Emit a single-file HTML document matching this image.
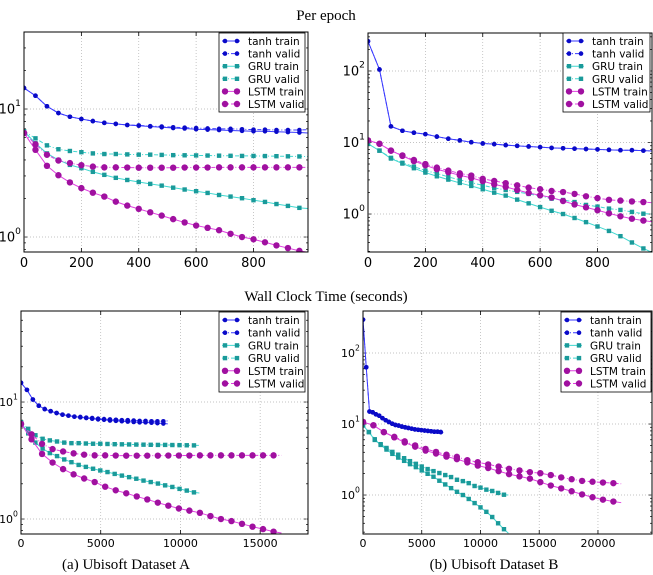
<!DOCTYPE html>
<html><head><meta charset="utf-8"><style>
html,body{margin:0;padding:0;background:#fff;}
svg{display:block;font-family:"DejaVu Sans","Liberation Sans",sans-serif;}
.ttl{font-family:"Liberation Serif",serif;font-size:15px;fill:#000;}
</style></head><body>
<svg id="fig" width="653" height="575" viewBox="0 0 653 575" xmlns="http://www.w3.org/2000/svg">
<text class="ttl" x="326" y="20" text-anchor="middle">Per epoch</text>
<text class="ttl" x="326" y="301" text-anchor="middle">Wall Clock Time (seconds)</text>
<text class="ttl" x="126" y="569" text-anchor="middle">(a) Ubisoft Dataset A</text>
<text class="ttl" x="494" y="569" text-anchor="middle">(b) Ubisoft Dataset B</text>
</svg>
<script>
// epochs sampled (markers every 40 epochs; last point is curve end)
const epochs=[0,40,80,120,160,200,240,280,320,360,400,440,480,520,560,600,640,680,720,760,800,840,880,920,960,990];
// Dataset A
const aTanhTrain=[14.6,12.7,10.5,9.3,8.7,8.35,8.05,7.8,7.65,7.5,7.4,7.3,7.2,7.1,7.05,6.95,6.9,6.85,6.8,6.75,6.7,6.7,6.65,6.6,6.55,6.5];
const aTanhValid=[14.6,12.7,10.5,9.3,8.7,8.35,8.05,7.8,7.65,7.5,7.45,7.35,7.3,7.2,7.15,7.1,7.05,7.0,7.0,6.95,6.9,6.9,6.85,6.85,6.85,6.9];
const aGruTrain=[6.7,5.4,4.5,4.0,3.66,3.45,3.23,3.06,2.9,2.79,2.69,2.6,2.52,2.43,2.35,2.28,2.21,2.13,2.07,2.01,1.94,1.88,1.81,1.75,1.69,1.67];
const aGruValid=[6.7,5.9,5.2,4.85,4.7,4.6,4.5,4.45,4.45,4.42,4.4,4.4,4.38,4.36,4.35,4.34,4.33,4.32,4.31,4.3,4.3,4.29,4.28,4.27,4.26,4.26];
const aLstmTrain=[6.5,4.8,3.6,3.04,2.67,2.41,2.22,2.07,1.89,1.76,1.66,1.56,1.47,1.38,1.30,1.23,1.18,1.13,1.06,1.0,0.96,0.91,0.86,0.82,0.78,0.76];
const aLstmValid=[6.5,5.3,4.39,3.96,3.78,3.64,3.55,3.5,3.5,3.49,3.48,3.48,3.48,3.48,3.49,3.49,3.49,3.5,3.5,3.5,3.5,3.5,3.5,3.5,3.5,3.5];
// Dataset B
const bTanhTrain=[260,105,16.8,14.6,13.7,13.1,12.1,11.3,10.7,10.1,9.7,9.5,9.2,8.98,8.8,8.6,8.4,8.3,8.2,8.1,8.0,7.9,7.8,7.8,7.7,7.6];
const bTanhValid=[260,105,16.8,14.6,13.7,13.1,12.1,11.3,10.7,10.1,9.7,9.5,9.2,8.98,8.8,8.6,8.4,8.3,8.2,8.1,8.0,7.9,7.8,7.8,7.7,7.6];
const bGruTrain=[9.6,7.7,5.97,5.08,4.37,3.8,3.37,3.03,2.72,2.47,2.22,1.99,1.81,1.59,1.41,1.25,1.11,1.0,0.88,0.77,0.67,0.58,0.49,0.40,0.33,0.29];
const bGruValid=[9.6,7.7,6.1,5.2,4.6,4.05,3.7,3.3,3.0,2.75,2.52,2.32,2.17,2.04,1.91,1.79,1.64,1.57,1.47,1.34,1.27,1.19,1.14,1.07,1.01,1.0];
const bLstmTrain=[10.7,9.6,7.7,6.5,5.5,4.8,4.23,3.84,3.48,3.2,2.88,2.6,2.4,2.17,1.97,1.83,1.7,1.52,1.36,1.24,1.13,1.02,0.93,0.86,0.81,0.78];
const bLstmValid=[10.7,9.6,7.7,6.6,5.7,5.0,4.46,4.05,3.7,3.45,3.1,2.9,2.7,2.52,2.34,2.22,2.1,2.03,1.91,1.77,1.67,1.58,1.54,1.5,1.47,1.44];
const dTanhTrain=[295,63,15.0,14.6,13.7,13.1,12.1,11.3,10.7,10.1,9.7,9.5,9.2,8.98,8.8,8.6,8.4,8.3,8.2,8.1,8.0,7.9,7.8,7.8,7.7,7.6];
// seconds per epoch [tanh, GRU, LSTM]
const secPerEpochA=[9.3,11.3,16.5];
const secPerEpochB=[6.9,12.5,22.2];
// ticks
const epochTicks=[0,200,400,600,800];
const wallTicksA=[0,5000,10000,15000];
const wallTicksB=[0,5000,10000,15000,20000];
const legendLabels=["tanh train","tanh valid","GRU train","GRU valid","LSTM train","LSTM valid"];

const NS="http://www.w3.org/2000/svg";
const svg=document.getElementById('fig');
function mk(tag,attrs,parent){const e=document.createElementNS(NS,tag);for(const k in attrs)e.setAttribute(k,attrs[k]);(parent||svg).appendChild(e);return e;}
const styles=[
 {line:"#3a3aff",mk:"#0a0ac8",dash:"",shape:"circle"},
 {line:"#3a3aff",mk:"#0a0ac8",dash:"4,2,1,2",shape:"circle"},
 {line:"#40d8d0",mk:"#1a9a9a",dash:"",shape:"square"},
 {line:"#40d8d0",mk:"#1a9a9a",dash:"4,2,1,2",shape:"square"},
 {line:"#e040e0",mk:"#a010a0",dash:"",shape:"diamond"},
 {line:"#e040e0",mk:"#a010a0",dash:"4,2,1,2",shape:"diamond"}];
function marker(g,shape,cx,cy,col,name){
  let e;
  if(shape==="circle")e=mk('circle',{cx:cx,cy:cy,r:2.3,fill:col},g);
  else if(shape==="square")e=mk('rect',{x:cx-2.2,y:cy-2.2,width:4.4,height:4.4,fill:col},g);
  else e=mk('circle',{cx:cx,cy:cy,r:3.2,fill:col},g);
  
  
}
function panel(p){
  const g=mk('g',{});
  
  
  const X=v=>p.x0+(v-p.xmin)/(p.xmax-p.xmin)*(p.x1-p.x0);
  const Y=v=>p.y1-(Math.log10(v)-p.lmin)/(p.lmax-p.lmin)*(p.y1-p.y0);
  const clip='clip-'+p.name;
  const cp=mk('clipPath',{id:clip},g);mk('rect',{x:p.x0,y:p.y0,width:p.x1-p.x0,height:p.y1-p.y0},cp);
  // grid
  p.xticks.forEach(t=>{const x=X(t);
    const gl=mk('line',{x1:x,x2:x,y1:p.y0,y2:p.y1,stroke:"#b0b0b0","stroke-width":0.7,"stroke-dasharray":"1,2"},g);
    
    mk('line',{x1:x,x2:x,y1:p.y1,y2:p.y1-4,stroke:"#000","stroke-width":0.8},g);
    mk('line',{x1:x,x2:x,y1:p.y0,y2:p.y0+4,stroke:"#000","stroke-width":0.8},g);
    const tl=mk('text',{x:x,y:p.y1+p.fs+2,"text-anchor":"middle","font-size":p.fs},g);tl.textContent=t;
    
  });
  for(let d=Math.floor(p.lmin);d<=Math.ceil(p.lmax);d++){
    for(let m=1;m<10;m++){const l=d+Math.log10(m);if(l<p.lmin||l>p.lmax)continue;const y=Y(Math.pow(10,l));
      const len=m===1?4:2;
      mk('line',{x1:p.x0,x2:p.x0+len,y1:y,y2:y,stroke:"#000","stroke-width":0.7},g);
      mk('line',{x1:p.x1,x2:p.x1-len,y1:y,y2:y,stroke:"#000","stroke-width":0.7},g);
      if(m===1){
        const gl=mk('line',{x1:p.x0,x2:p.x1,y1:y,y2:y,stroke:"#b0b0b0","stroke-width":0.7,"stroke-dasharray":"1,2"},g);
        
        const tl=mk('text',{x:p.x0-3-p.fs*0.45,y:y+p.fs*0.35,"text-anchor":"end","font-size":p.fs},g);tl.textContent="10";
        
        const sp=mk('text',{x:p.x0-3-p.fs*0.45,y:y-p.fs*0.25,"font-size":p.fs*0.7},g);sp.textContent=d;
        
      }}
  }
  // series
  const sg=mk('g',{"clip-path":"url(#"+clip+")"},g);
  p.series.forEach((s,i)=>{const st=styles[i];
    const pts=s.vals.map((v,k)=>[X(s.xs[k]),Y(v)]);
    const pl=mk('polyline',{points:pts.map(q=>q.join(',')).join(' '),fill:"none",stroke:st.line,"stroke-width":1,"stroke-dasharray":st.dash},sg);
    
    pts.forEach((q,k)=>{if(k<pts.length-1)marker(sg,st.shape,q[0],q[1],st.mk,legendLabels[i].replace(' ','-')+'-point');});
  });
  const fr=mk('rect',{x:p.x0,y:p.y0,width:p.x1-p.x0,height:p.y1-p.y0,fill:"none",stroke:"#000","stroke-width":1},g);
  
  // legend
  const lg=mk('g',{},g);
  
  mk('rect',{x:p.lx,y:p.ly,width:p.lw,height:p.lh,fill:"#fff",stroke:"#000","stroke-width":0.8},lg);
  legendLabels.forEach((lab,i)=>{const st=styles[i];const y=p.ly+8+i*p.lstep;
    const e=mk('g',{},lg);
    
    mk('line',{x1:p.lx+3,x2:p.lx+21,y1:y,y2:y,stroke:st.line,"stroke-width":1,"stroke-dasharray":st.dash},e);
    marker(e,st.shape,p.lx+6,y,st.mk,'legend-marker');marker(e,st.shape,p.lx+18,y,st.mk,'legend-marker');
    const t=mk('text',{x:p.lx+29,y:y+4,"font-size":p.lfs},e);t.textContent=lab;
  });
}
const mult=(r)=>epochs.map(e=>e*r);
panel({name:"panel-a-per-epoch",x0:24,x1:308,y0:32,y1:252,xmin:0,xmax:990,lmin:-0.117,lmax:1.6016,xticks:epochTicks,fs:13,
 lx:219,ly:33,lw:86,lh:79,lstep:12.6,lfs:10.5,
 series:[aTanhTrain,aTanhValid,aGruTrain,aGruValid,aLstmTrain,aLstmValid].map(v=>({xs:epochs,vals:v}))});
panel({name:"panel-b-per-epoch",x0:368,x1:652,y0:33,y1:252,xmin:0,xmax:990,lmin:-0.531,lmax:2.531,xticks:epochTicks,fs:13,
 lx:563,ly:33,lw:87,lh:79,lstep:12.6,lfs:10.5,
 series:[bTanhTrain,bTanhValid,bGruTrain,bGruValid,bLstmTrain,bLstmValid].map(v=>({xs:epochs,vals:v}))});
panel({name:"panel-a-wall-clock",x0:21,x1:308,y0:311,y1:534,xmin:0,xmax:18000,lmin:-0.128,lmax:1.778,xticks:wallTicksA,fs:11,
 lx:219,ly:312,lw:86,lh:80,lstep:12.7,lfs:10.5,
 series:[[aTanhTrain,0],[aTanhValid,0],[aGruTrain,1],[aGruValid,1],[aLstmTrain,2],[aLstmValid,2]].map(a=>({xs:mult(secPerEpochA[a[1]]),vals:a[0]}))});
panel({name:"panel-b-wall-clock",x0:363,x1:652,y0:311,y1:534,xmin:0,xmax:24600,lmin:-0.549,lmax:2.592,xticks:wallTicksB,fs:11,
 lx:561,ly:312,lw:90,lh:80,lstep:12.7,lfs:10.5,
 series:[[dTanhTrain,0],[dTanhTrain,0],[bGruTrain,1],[bGruValid,1],[bLstmTrain,2],[bLstmValid,2]].map(a=>({xs:mult(secPerEpochB[a[1]]),vals:a[0]}))});
</script>
</body></html>
